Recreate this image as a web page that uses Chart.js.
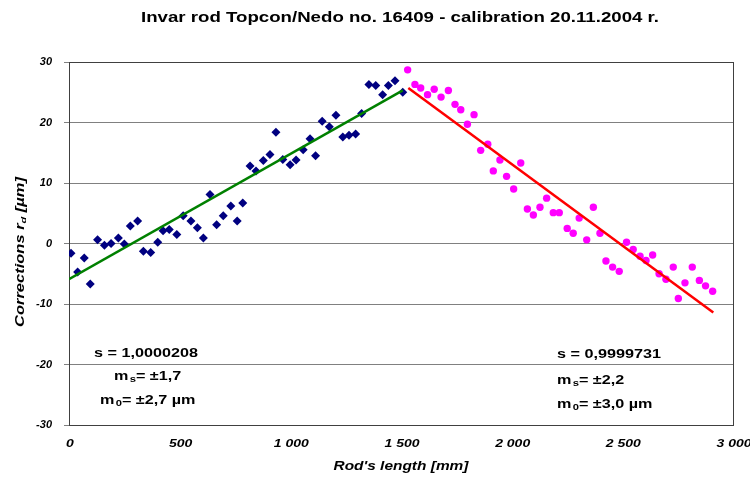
<!DOCTYPE html>
<html><head><meta charset="utf-8">
<script src="https://cdn.jsdelivr.net/npm/chart.js@4"></script>
<style>html,body{margin:0;padding:0;background:#fff}#wrap{width:750px;height:479px}</style>
</head><body><div id="wrap"><canvas id="c" width="750" height="479"></canvas></div>
<script>
const titleText = "Invar rod Topcon/Nedo no. 16409 - calibration 20.11.2004 r.";
const xAxisTitle = "Rod's length [mm]";
const yAxisTitleMain = "Corrections r";
const yAxisTitleSub = "d";
const yAxisTitleTail = " [\u00b5m]";
const xTicks = [0, 500, 1000, 1500, 2000, 2500, 3000];
const yTicks = [-30, -20, -10, 0, 10, 20, 30];

// Part 1 measurements (blue diamonds)
const blueX = [9, 39, 69, 96, 129, 160, 190, 223, 250, 277, 310, 336, 369, 401, 425, 453, 487, 516, 551, 580, 607, 637, 667, 697, 731, 760, 785, 818, 845, 878, 908, 935, 966, 999, 1026, 1058, 1089, 1114, 1144, 1176, 1206, 1237, 1265, 1295, 1322, 1355, 1386, 1417, 1443, 1473, 1508];
const blueY = [-1.6, -4.7, -2.4, -6.7, 0.6, -0.3, 0.0, 0.9, -0.1, 2.9, 3.7, -1.3, -1.5, 0.2, 2.1, 2.3, 1.5, 4.6, 3.7, 2.6, 0.9, 8.1, 3.1, 4.6, 6.2, 3.7, 6.7, 12.8, 12.0, 13.7, 14.7, 18.4, 13.9, 13.0, 13.8, 15.5, 17.3, 14.5, 20.2, 19.3, 21.2, 17.6, 17.9, 18.1, 21.5, 26.3, 26.1, 24.6, 26.1, 26.9, 25.0];

// Part 2 measurements (magenta circles)
const pinkX = [1530, 1563, 1589, 1620, 1650, 1681, 1714, 1744, 1770, 1800, 1830, 1860, 1892, 1917, 1947, 1977, 2009, 2041, 2071, 2098, 2128, 2158, 2188, 2215, 2251, 2278, 2305, 2339, 2369, 2399, 2426, 2456, 2486, 2519, 2549, 2580, 2607, 2637, 2666, 2697, 2730, 2753, 2783, 2816, 2848, 2876, 2908];
const pinkY = [28.7, 26.3, 25.7, 24.6, 25.5, 24.2, 25.3, 23.0, 22.1, 19.7, 21.3, 15.4, 16.4, 12.0, 13.8, 11.1, 9.0, 13.3, 5.7, 4.7, 6.0, 7.5, 5.1, 5.1, 2.5, 1.7, 4.2, 0.6, 6.0, 1.7, -2.9, -3.9, -4.6, 0.2, -1.0, -2.1, -2.8, -1.9, -5.0, -5.9, -3.9, -9.1, -6.5, -3.9, -6.1, -7.0, -7.9];

// Regression lines
const greenX = [0, 1508];
const greenY = [-5.9, 25.3];
const redX = [1533, 2911];
const redY = [25.7, -11.4];

// Annotation texts
const leftStats = ["s = 1,0000208", "\u00b11,7", "\u00b12,7 \u00b5m"];
const rightStats = ["s = 0,9999731", "\u00b12,2", "\u00b13,0 \u00b5m"];

const toPts = (xs, ys) => xs.map((x, i) => ({x: x, y: ys[i]}));
const FONT = "'Liberation Sans', Arial, sans-serif";
const fmt = v => { const s = String(v); return s.length > 3 ? s.slice(0, s.length - 3) + ' ' + s.slice(-3) : s; };

// draw text horizontally stretched by sx, anchored per align
function stretched(c, text, x, y, font, sx, align) {
  c.save();
  c.font = font;
  c.textBaseline = 'middle';
  c.textAlign = align || 'center';
  c.translate(x, y);
  c.scale(sx, 1);
  c.fillText(text, 0, 0);
  c.restore();
}
function fitScale(c, text, font, width) {
  c.save(); c.font = font; const w = c.measureText(text).width; c.restore();
  return width / w;
}

const decor = {
  id: 'decor',
  beforeDraw(chart) {
    const c = chart.ctx;
    c.save(); c.fillStyle = '#fff'; c.fillRect(0, 0, chart.width, chart.height); c.restore();
  },
  beforeDatasetsDraw(chart) {
    const c = chart.ctx, a = chart.chartArea;
    c.save();
    c.strokeStyle = '#404040'; c.lineWidth = 1;
    c.strokeRect(Math.round(a.left) + 0.5, Math.round(a.top) + 0.5, Math.round(a.right - a.left), Math.round(a.bottom - a.top));
    c.restore();
  },
  afterDraw(chart) {
    const c = chart.ctx, a = chart.chartArea, xs = chart.scales.x;
    c.save();
    c.fillStyle = '#000';
    // title
    const tf = "bold 14px " + FONT;
    stretched(c, titleText, 400, 18, tf, fitScale(c, titleText, tf, 518), 'center');
    // x tick labels
    const xf = "italic bold 11px " + FONT;
    const xsx = fitScale(c, '1 000', xf, 35);
    xTicks.forEach(v => stretched(c, fmt(v), xs.getPixelForValue(v) + 1, 444, xf, xsx, 'center'));
    // x title
    const xtf = "italic bold 12px " + FONT;
    stretched(c, xAxisTitle, 401, 467, xtf, fitScale(c, xAxisTitle, xtf, 135), 'center');
    // y title rotated
    c.save();
    c.translate(21, 252);
    c.rotate(-Math.PI / 2);
    const f1 = "italic bold 12px " + FONT, f2 = "italic bold 8px " + FONT;
    c.font = f1; const w1 = c.measureText(yAxisTitleMain).width;
    c.font = f2; const w2 = c.measureText(yAxisTitleSub).width;
    c.font = f1; const w3 = c.measureText(yAxisTitleTail).width;
    const tot = w1 + w2 + w3;
    c.scale(150 / tot, 1);
    let x0 = -tot / 2;
    c.textAlign = 'left'; c.textBaseline = 'middle';
    c.font = f1; c.fillText(yAxisTitleMain, x0, 0);
    c.font = f2; c.fillText(yAxisTitleSub, x0 + w1, 3);
    c.font = f1; c.fillText(yAxisTitleTail, x0 + w1 + w2, 0);
    c.restore();
    // stats blocks
    const bf = "bold 13px " + FONT, sf = "bold 9px " + FONT;
    const block = (lines, px, py) => {
      const sx = fitScale(c, lines[0], bf, 104);
      stretched(c, lines[0], px[0], py[0], bf, sx, 'left');
      const sub = (subTxt, txt, x, y) => {
        c.save();
        c.translate(x, y); c.scale(sx, 1);
        c.textAlign = 'left'; c.textBaseline = 'middle';
        c.font = bf; c.fillText('m', 0, 0);
        const wm = c.measureText('m').width;
        c.font = sf; c.fillText(subTxt, wm + 1, 4);
        const ws = c.measureText(subTxt).width;
        c.font = bf; c.fillText('= ' + txt, wm + ws + 1, 0);
        c.restore();
      };
      sub('s', lines[1], px[1], py[1]);
      sub('0', lines[2], px[2], py[2]);
    };
    block(leftStats, [94, 114, 100], [353, 376, 400]);
    block(rightStats, [557, 557, 557], [354, 380, 404]);
    c.restore();
  }
};

new Chart(document.getElementById('c'), {
  type: 'scatter',
  data: {
    datasets: [
      {label: 'fit1', data: toPts(greenX, greenY), showLine: true, borderColor: '#008000', borderWidth: 2.5, pointRadius: 0, fill: false},
      {label: 'fit2', data: toPts(redX, redY), showLine: true, borderColor: '#ff0000', borderWidth: 2.5, pointRadius: 0, fill: false},
      {label: 'part1', data: toPts(blueX, blueY), pointStyle: 'rectRot', pointRadius: 4.5, backgroundColor: '#000080', borderColor: '#000080', borderWidth: 0},
      {label: 'part2', data: toPts(pinkX, pinkY), pointStyle: 'circle', pointRadius: 3.7, backgroundColor: '#ff00ff', borderColor: '#ff00ff', borderWidth: 0}
    ]
  },
  options: {
    responsive: false,
    animation: false,
    devicePixelRatio: 1,
    layout: {padding: {top: 62, right: 17, left: 0, bottom: 0}},
    plugins: {legend: {display: false}, title: {display: false}, tooltip: {enabled: false}},
    scales: {
      x: {
        type: 'linear', min: 0, max: 3000,
        afterBuildTicks: s => { s.ticks = xTicks.map(v => ({value: v})); },
        afterFit: s => { s.height = 54; s.paddingLeft = 0; s.paddingRight = 0; },
        grid: {display: false, drawTicks: false},
        border: {display: false},
        ticks: {display: false}
      },
      y: {
        type: 'linear', min: -30, max: 30,
        afterBuildTicks: s => { s.ticks = yTicks.map(v => ({value: v})); },
        afterFit: s => { s.width = 69; },
        grid: {color: '#808080', lineWidth: 1, tickLength: 5},
        border: {display: false},
        ticks: {autoSkip: false, padding: 12, color: '#000', font: {family: FONT, size: 11, weight: 'bold', style: 'italic'}}
      }
    }
  },
  plugins: [decor]
});
</script>
</body></html>
